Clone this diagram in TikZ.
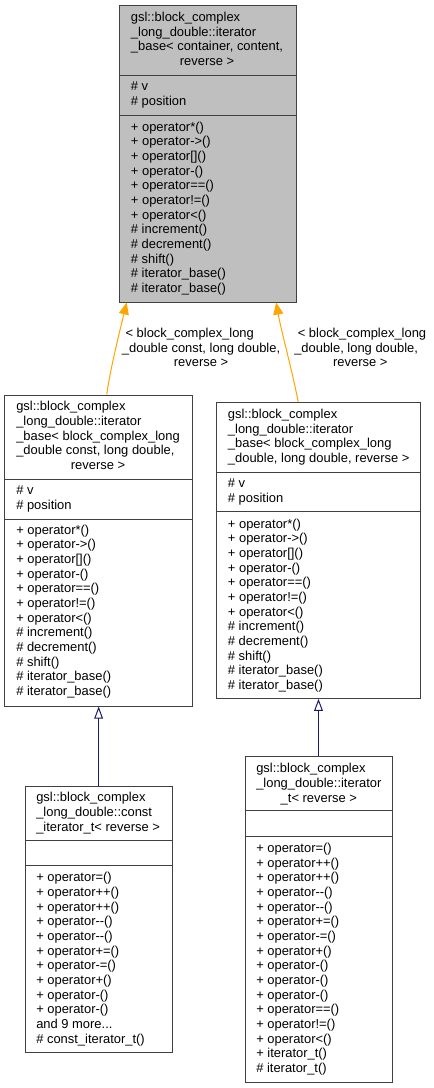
\documentclass[tikz,border=0pt]{standalone}
\usepackage{fontspec}
\newfontfamily\umlfont{Liberation Sans}
\usetikzlibrary{arrows.meta,positioning,calc,fit}

\definecolor{edgeorange}{HTML}{FFA500}
\definecolor{edgeblue}{HTML}{191970}

\tikzset{
  classbox/.style={draw=black!75, line width=0.75pt, inner sep=0pt, fill=white},
  basebox/.style={classbox, fill=gray!50},
  divider/.style={draw=black!75, line width=0.75pt},
  members/.style={anchor=north west, inner sep=0pt, font=\umlfont\fontsize{9.7}{11}\selectfont},
  tmplinst/.style={draw=edgeorange, line width=0.75pt, -{Triangle[length=9pt,width=7.5pt]}},
  inherit/.style={draw=edgeblue, line width=0.75pt, -{Triangle[open,length=9pt,width=6.5pt,fill=white]}},
}
\newcommand{\lastline}[1]{\multicolumn{1}{@{}c@{}}{#1}}

\begin{document}
\begin{tikzpicture}[x=0.75pt,y=-0.75pt]
  \useasboundingbox (0,0) rectangle (433,1088);

  % iterator_base template
  \node[basebox, fit={(119.7,5.7) (296,302)}] (base) {};
  \draw[divider] (base.west |- 0,75.3) -- (base.east |- 0,75.3);
  \draw[divider] (base.west |- 0,115.3) -- (base.east |- 0,115.3);
  \node[members] (basetitle) at (130.7,11) {\begin{tabular}{@{}l@{}}
    gsl::block\_complex\\ \_long\_double::iterator\\ \_base< container, content,\\ \lastline{reverse >}
  \end{tabular}};
  \node[members] (baseattr) at (130.7,80.4) {\begin{tabular}{@{}l@{}}
    \# v\\ \# position
  \end{tabular}};
  \node[members] (baseops) at (130.7,120.7) {\begin{tabular}{@{}l@{}}
    + operator*()\\ + operator->()\\ + operator[]()\\ + operator-()\\ + operator==()\\
    + operator!=()\\ + operator<()\\ \# increment()\\ \# decrement()\\ \# shift()\\
    \# iterator\_base()\\ \# iterator\_base()
  \end{tabular}};

  % const instance
  \node[classbox, fit={(4.7,395) (192,706)}] (lmid) {};
  \draw[divider] (lmid.west |- 0,479.3) -- (lmid.east |- 0,479.3);
  \draw[divider] (lmid.west |- 0,519.3) -- (lmid.east |- 0,519.3);
  \node[members] (lmidtitle) at (16,400.4) {\begin{tabular}{@{}l@{}}
    gsl::block\_complex\\ \_long\_double::iterator\\ \_base< block\_complex\_long\\
    \_double const, long double,\\ \lastline{reverse >}
  \end{tabular}};
  \node[members] (lmidattr) at (16,484.4) {\begin{tabular}{@{}l@{}}
    \# v\\ \# position
  \end{tabular}};
  \node[members] (lmidops) at (16,523.7) {\begin{tabular}{@{}l@{}}
    + operator*()\\ + operator->()\\ + operator[]()\\ + operator-()\\ + operator==()\\
    + operator!=()\\ + operator<()\\ \# increment()\\ \# decrement()\\ \# shift()\\
    \# iterator\_base()\\ \# iterator\_base()
  \end{tabular}};

  % non-const instance
  \node[classbox, fit={(216.7,402.7) (420.7,698.3)}] (rmid) {};
  \draw[divider] (rmid.west |- 0,472) -- (rmid.east |- 0,472);
  \draw[divider] (rmid.west |- 0,511.7) -- (rmid.east |- 0,511.7);
  \node[members] (rmidtitle) at (227.7,408) {\begin{tabular}{@{}l@{}}
    gsl::block\_complex\\ \_long\_double::iterator\\ \_base< block\_complex\_long\\
    \lastline{\_double, long double, reverse >}
  \end{tabular}};
  \node[members] (rmidattr) at (227.7,477) {\begin{tabular}{@{}l@{}}
    \# v\\ \# position
  \end{tabular}};
  \node[members] (rmidops) at (227.7,517.7) {\begin{tabular}{@{}l@{}}
    + operator*()\\ + operator->()\\ + operator[]()\\ + operator-()\\ + operator==()\\
    + operator!=()\\ + operator<()\\ \# increment()\\ \# decrement()\\ \# shift()\\
    \# iterator\_base()\\ \# iterator\_base()
  \end{tabular}};

  % const_iterator_t
  \node[classbox, fit={(25.3,786) (172,1052.3)}] (lbot) {};
  \draw[divider] (lbot.west |- 0,840.7) -- (lbot.east |- 0,840.7);
  \draw[divider] (lbot.west |- 0,865.7) -- (lbot.east |- 0,865.7);
  \node[members] (lbottitle) at (36,791.4) {\begin{tabular}{@{}l@{}}
    gsl::block\_complex\\ \_long\_double::const\\ \lastline{\_iterator\_t< reverse >}
  \end{tabular}};
  \node[members] (lbotops) at (36,871.4) {\begin{tabular}{@{}l@{}}
    + operator=()\\ + operator++()\\ + operator++()\\ + operator-{}-()\\ + operator-{}-()\\
    + operator+=()\\ + operator-=()\\ + operator+()\\ + operator-()\\ + operator-()\\
    and 9 more...\\ \# const\_iterator\_t()
  \end{tabular}};

  % iterator_t
  \node[classbox, fit={(245,756.7) (392,1082)}] (rbot) {};
  \draw[divider] (rbot.west |- 0,810.7) -- (rbot.east |- 0,810.7);
  \draw[divider] (rbot.west |- 0,836.7) -- (rbot.east |- 0,836.7);
  \node[members] (rbottitle) at (256,762.4) {\begin{tabular}{@{}l@{}}
    gsl::block\_complex\\ \_long\_double::iterator\\ \lastline{\_t< reverse >}
  \end{tabular}};
  \node[members] (rbotops) at (256,842) {\begin{tabular}{@{}l@{}}
    + operator=()\\ + operator++()\\ + operator++()\\ + operator-{}-()\\ + operator-{}-()\\
    + operator+=()\\ + operator-=()\\ + operator+()\\ + operator-()\\ + operator-()\\
    + operator-()\\ + operator==()\\ + operator!=()\\ + operator<()\\
    + iterator\_t()\\ \# iterator\_t()
  \end{tabular}};

  % template instantiations
  \draw[tmplinst] ($(lmid.north)+(8.4,0)$) .. controls (110,370) and (120,330) .. ($(base.south west)+(7.5,0)$);
  \draw[tmplinst] ($(rmid.north)+(-20.4,0)$) .. controls (292,370) and (281,330) .. ($(base.south west)+(157,0)$);
  \node[members] (lbl1) at (121.7,327) {\begin{tabular}{@{}l@{}}
    ~< block\_complex\_long\\ \_double const, long double,\\ \lastline{reverse >}
  \end{tabular}};
  \node[members] (lbl2) at (294,327) {\begin{tabular}{@{}l@{}}
    ~< block\_complex\_long\\ \_double, long double,\\ \lastline{reverse >}
  \end{tabular}};

  % inheritance
  \draw[inherit] (lbot.north) -- (lbot.north |- lmid.south);
  \draw[inherit] (rbot.north) -- (rbot.north |- rmid.south);
\end{tikzpicture}
\end{document}
